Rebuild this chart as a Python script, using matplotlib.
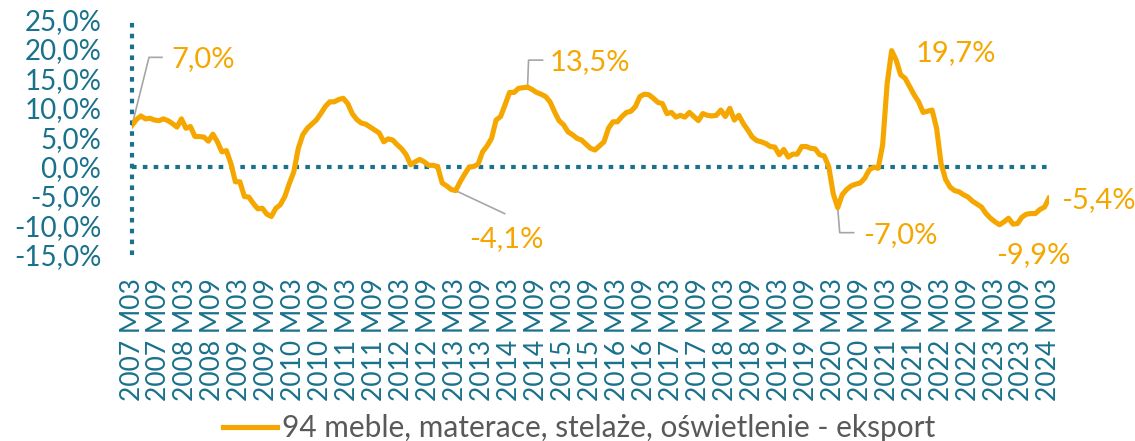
import matplotlib
matplotlib.use("Agg")
import matplotlib.pyplot as plt
import numpy as np
import pandas as pd

plt.rcParams['font.family'] = ['Lato', 'DejaVu Sans']

# miesiace 2007 M03 .. 2024 M03
months = pd.period_range('2007-03', '2024-03', freq='M')
categories = [f"{p.year} M{p.month:02d}" for p in months]

# dynamika r/r, % (odczyt z wykresu)
export_yoy = [
    7.0, 8.0, 8.6, 8.1, 8.2, 7.9, 7.8, 8.1, 7.8, 7.3, 6.7, 8.1,
    6.5, 6.8, 5.1, 5.1, 5.0, 4.3, 5.5, 4.2, 2.5, 2.7, 0.5, -2.6,
    -2.6, -5.1, -5.2, -6.3, -7.2, -7.1, -8.1, -8.5, -7.1, -6.5, -5.1, -2.9,
    -0.9, 3.1, 5.4, 6.5, 7.2, 7.9, 9.0, 10.2, 11.0, 11.0, 11.4, 11.6,
    10.7, 9.0, 8.0, 7.4, 7.2, 6.7, 6.2, 5.7, 4.2, 4.7, 4.5, 3.7,
    3.0, 2.0, 0.3, 0.8, 1.2, 0.8, 0.2, 0.2, 0.0, -2.8, -3.3, -3.9,
    -4.1, -2.6, -1.3, -0.1, 0.0, 0.4, 2.5, 3.5, 4.8, 7.9, 8.5, 10.5,
    12.6, 12.6, 13.3, 13.4, 13.5, 13.1, 12.6, 12.3, 11.9, 11.0, 9.3, 7.8,
    7.1, 5.9, 5.4, 4.8, 4.5, 3.8, 3.1, 2.8, 3.5, 4.2, 6.5, 7.6,
    7.6, 8.5, 9.2, 9.4, 10.2, 11.9, 12.3, 12.2, 11.6, 10.9, 10.7, 9.0,
    9.2, 8.4, 8.7, 8.4, 9.2, 8.5, 7.8, 9.0, 8.7, 8.6, 8.7, 9.6,
    8.5, 9.9, 7.9, 8.7, 7.3, 6.2, 5.0, 4.4, 4.2, 3.9, 3.4, 3.3,
    2.0, 2.9, 1.6, 2.1, 2.1, 3.4, 3.4, 3.1, 3.0, 2.0, 1.8, 0.0,
    -4.6, -7.0, -4.8, -3.9, -3.3, -3.0, -2.8, -2.0, -0.6, -0.1, -0.3, 3.7,
    14.1, 19.7, 18.1, 15.6, 15.0, 13.6, 12.2, 11.0, 9.2, 9.4, 9.6, 6.5,
    0.5, -2.2, -3.5, -4.1, -4.3, -4.8, -5.2, -5.9, -6.4, -6.9, -8.0, -8.8,
    -9.4, -9.9, -9.4, -8.8, -9.8, -9.7, -8.6, -8.1, -8.0, -8.0, -7.3, -6.9,
    -5.4,
]
series_name = "94 meble, materace, stelaże, oświetlenie - eksport"
y_ticks = [-15, -10, -5, 0, 5, 10, 15, 20, 25]
tick_step = 6

# etykiety danych: indeks punktu
label_points = [0, 72, 88, 157, 169, 193, 204]

TEAL = '#19718C'
ORANGE = '#F5A700'
GREY = '#A6A6A6'

x = np.arange(len(export_yoy))
vals = np.array(export_yoy)

fig = plt.figure(figsize=(11.35, 4.41), dpi=100)
ax = fig.add_axes([0.1163, 0.4224, 0.8079, 0.5334])

ax.plot(x, vals, color=ORANGE, lw=3.7, solid_joinstyle='round', zorder=3, label=series_name)

ax.set_xlim(0, len(vals) - 1)
ax.set_ylim(-15, 25)

# osie kropkowane
dots = (0, (1.1, 1.5))
ax.axhline(0, color=TEAL, lw=3, linestyle=dots, dash_capstyle='butt', zorder=2)
ax.axvline(0, color=TEAL, lw=3, linestyle=dots, dash_capstyle='butt', zorder=2, clip_on=False)
for s in ax.spines.values():
    s.set_visible(False)

ax.set_yticks(y_ticks)
ax.set_yticklabels([f"{v:.1f}".replace('.', ',') + '%' for v in y_ticks])
ax.set_xticks(x[::tick_step])
ax.set_xticklabels(categories[::tick_step], rotation=90)
ax.tick_params(axis='y', length=0, pad=22, labelsize=20, labelcolor=TEAL)
ax.tick_params(axis='x', length=0, pad=17, labelsize=19, labelcolor=TEAL)


def fmt(v):
    return f"{v:.1f}".replace('.', ',') + '%'


def leader(i, offs):
    px, py = ax.transData.transform((x[i], vals[i]))
    pts = [(px, py)] + [(px + dx, py + dy) for dx, dy in offs]
    d = ax.transData.inverted().transform(pts)
    ax.plot(d[:, 0], d[:, 1], color=GREY, lw=1.2, clip_on=False, zorder=1)


# odnosniki (piksele, y w gore)
leader(0, [(17, 68), (30, 68)])
leader(88, [(1, 27), (15, 27)])
leader(72, [(49, -23)])
leader(157, [(2, -25), (16, -25)])

text_offsets = {0: (39, 66), 72: (13, -48), 88: (22, 25), 157: (25, -27),
                169: (24, -2), 193: (-3, -30), 204: (12, -2)}
for i in label_points:
    ax.annotate(fmt(vals[i]), (x[i], vals[i]), xytext=text_offsets[i],
                textcoords='offset pixels', ha='left', va='center',
                color=ORANGE, fontsize=21, annotation_clip=False)

fig.legend(loc='center', bbox_to_anchor=(0.510, 0.0295), frameon=False,
           fontsize=21.5, handlelength=1.8, handletextpad=0.17, labelcolor='#595959')

fig.savefig('out.png', dpi=100)
